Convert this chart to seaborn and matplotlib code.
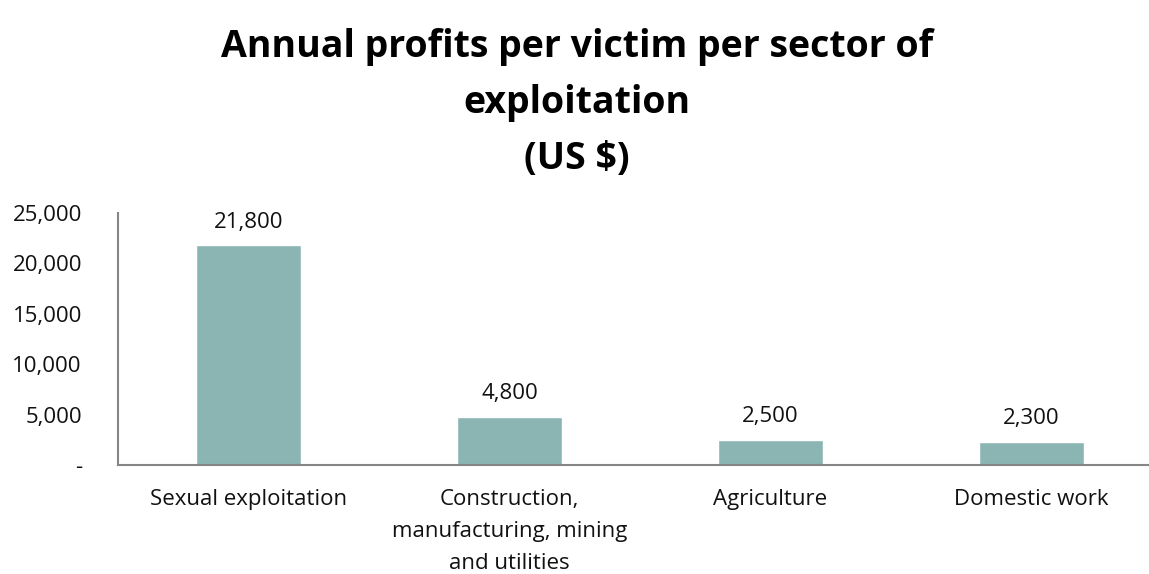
import matplotlib
matplotlib.use("Agg")
import matplotlib.pyplot as plt
import matplotlib.ticker as mticker
import pandas as pd
import seaborn as sns

sectors = ["Sexual exploitation",
           "Construction,\nmanufacturing, mining\nand utilities",
           "Agriculture",
           "Domestic work"]
profits = [21800, 4800, 2500, 2300]
yticks = [0, 5000, 10000, 15000, 20000, 25000]

df = pd.DataFrame({"sector": sectors, "profit": profits})

sns.set_style("white")
plt.rcParams["font.family"] = ["Open Sans", "DejaVu Sans"]

fig = plt.figure(figsize=(11.49, 5.74), dpi=100)
ax = fig.add_axes([0.1027, 0.19, 0.9087, 0.439])

sns.barplot(data=df, x="sector", y="profit", color="#8BB5B2", width=0.4,
            saturation=1, ax=ax)

# labels au dessus des barres
for i, v in enumerate(profits):
    ax.annotate(f"{v:,}", (i, v), xytext=(0, 9), textcoords="offset points",
                ha="center", va="bottom", fontsize=16, color="#111111")

ax.set_ylim(0, 25000)
ax.set_yticks(yticks)
ax.yaxis.set_major_formatter(mticker.FuncFormatter(lambda v, p: "-" if v == 0 else f"{int(v):,}"))
ax.set_xlabel("")
ax.set_ylabel("")
ax.tick_params(axis="y", length=0, pad=26, labelsize=16, labelcolor="#111111")
ax.tick_params(axis="x", length=0, pad=17, labelsize=16, labelcolor="#111111")
for lab in ax.get_xticklabels():
    lab.set_linespacing(1.7)

for s in ["top", "right"]:
    ax.spines[s].set_visible(False)
for s in ["left", "bottom"]:
    ax.spines[s].set_color("#868686")
    ax.spines[s].set_linewidth(1.5)

fig.suptitle("Annual profits per victim per sector of\nexploitation\n(US $)",
             x=0.502, y=0.952, fontsize=27, fontweight="bold", linespacing=1.62,
             color="black")

fig.savefig("out.png", dpi=100)
